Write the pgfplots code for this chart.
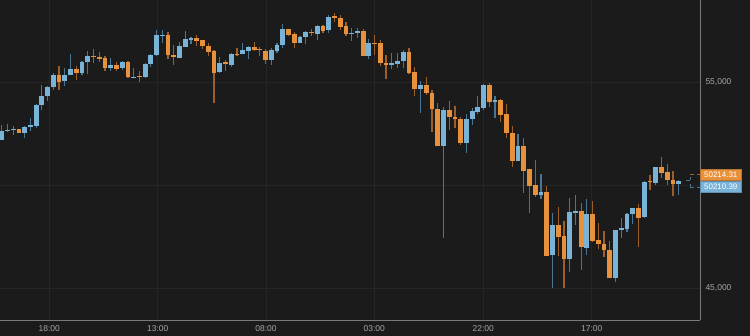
\documentclass[border=0pt]{standalone}
\usepackage{pgfplots}
\pgfplotsset{compat=1.18}
\usepackage{pgfplotstable}
\usepackage{fontspec}
\setmainfont{Liberation Sans}
\definecolor{bg}{HTML}{1B1B1B}
\definecolor{gridc}{HTML}{262626}
\definecolor{axc}{HTML}{7A7A7A}
\definecolor{tickc}{HTML}{A6A6A6}
\definecolor{upc}{HTML}{79B3D8}
\definecolor{upw}{HTML}{4A7593}
\definecolor{dnc}{HTML}{E8913C}
\definecolor{dnw}{HTML}{9C5F2A}
% up (blue) candles: index open high low close
\pgfplotstableread{
x o h l c
1 52168 52897 52168 52622
2 52622 52977 52573 52686
3 52670 52848 52444 52735
5 52524 52848 52282 52816
6 52800 53253 52638 52897
7 52848 53932 52783 53900
8 53867 54854 53641 54337
9 54321 54806 54094 54757
10 54741 55421 54612 55356
12 55032 55680 54822 55356
13 55340 56359 55340 55631
15 55437 56020 55340 55955
16 55955 56505 55388 56262
20 55680 56149 55550 55842
22 55680 56020 55599 55987
24 55210 55696 55194 55259
26 55243 55939 55210 55890
27 55874 56359 55728 56327
28 56311 57541 56246 57265
29 57249 57508 56909 57298
32 56181 56958 56149 56748
33 56715 57476 56715 57087
34 57055 57201 56861 57136
39 55469 56230 55421 55922
41 55809 56392 55744 56359
43 56343 56893 56343 56537
44 56521 56748 56117 56715
48 56052 56667 55842 56537
49 56505 56877 56392 56812
50 56796 57816 56667 57557
53 56909 57233 56893 57168
54 57185 57476 56845 57443
56 57314 57767 57055 57735
58 57524 58253 57363 58172
62 57330 57638 57007 57379
63 57363 57638 57152 57476
65 56278 57071 56117 56893
69 55842 56392 55647 55906
70 55874 56392 55680 56036
71 56003 56553 55696 56473
74 54677 55065 53511 54838
78 51910 53786 47444 53657
82 52023 53463 51570 53204
83 53220 53722 52929 53576
84 53544 54337 53431 53786
85 53754 54903 53625 54871
87 54045 54337 53253 54126
91 51149 52476 51149 51877
95 49499 50518 49337 49677
97 46618 48657 45000 48042
100 46424 49385 45793 48673
101 48657 49515 48075 48738
103 46942 49320 46618 48592
108 45470 47816 45275 47800
109 47816 48414 47444 47929
110 47880 48657 47735 48592
111 48592 48884 48123 48868
113 48431 50194 48414 50162
115 50113 50890 50016 50858
119 50065 50227 49515 50212
}\up
% down (orange) candles: index open high low close
\pgfplotstableread{
x o h l c
4 52702 52735 52508 52524
11 55356 55777 54612 54984
14 55631 55793 55097 55453
17 56262 56602 55906 56198
18 56214 56440 55971 56133
19 56165 56262 55518 55680
21 55842 55971 55550 55647
23 55987 56020 55210 55243
25 55291 55534 55016 55243
30 57265 57427 56100 56295
31 56327 56812 55825 56230
35 57120 57282 56731 56974
36 57023 57055 56602 56731
37 56748 56909 56262 56473
38 56505 56537 53981 55453
40 55955 56084 55518 55890
42 56376 56667 56246 56311
45 56715 56942 56521 56553
46 56602 56683 56278 56537
47 56505 56618 55890 56068
51 57557 57557 57249 57298
52 57314 57427 56634 56909
55 57443 57573 57249 57379
57 57735 57767 57395 57492
59 58188 58333 57913 58123
60 58107 58253 57508 57686
61 57702 57913 57233 57314
64 57476 57557 56262 56278
66 56909 57265 56311 56861
67 56893 57023 55793 55906
68 55922 56295 55130 55842
72 56473 56634 55372 55421
73 55469 55728 54337 54677
75 54838 55227 54369 54466
76 54482 54628 52589 53673
77 53689 53965 51877 51877
79 53657 54094 52670 53285
80 53301 53851 52783 53188
81 53204 53317 51958 52055
86 54871 54952 53803 54045
88 54110 54175 53042 53414
89 53431 53932 52266 52508
90 52508 52848 50890 51149
92 51877 52282 49628 50696
93 50761 50761 48625 49968
94 49984 51198 49418 49499
96 49644 49935 46570 46570
98 48042 48932 46554 47492
99 47525 48236 45000 46424
102 48738 49110 45874 46974
104 48592 49224 47233 47298
105 47330 48156 46877 47136
106 47152 47751 46489 46845
107 46861 47266 45470 45470
112 48868 49078 47007 48398
114 50194 50502 49774 50130
116 50858 51359 50324 50599
117 50615 51036 49984 50227
118 50227 50680 49450 50065
}\down
\begin{document}
\begin{tikzpicture}
\useasboundingbox (0bp,-15.7bp) rectangle (750bp,320.3bp);
\fill[bg] (0bp,-15.7bp) rectangle (750bp,320.3bp);
\begin{axis}[
  at={(0bp,0bp)}, anchor=south west,
  scale only axis, width=700bp, height=320.3bp,
  xmin=0.704, xmax=122.72, ymin=43432, ymax=58981,
  axis x line*=bottom, axis y line*=right,
  axis line style={-, draw=axc, line width=1bp},
  xtick={9.30,28.19,47.07,65.95,84.95,103.84},
  xticklabels={18:00,13:00,08:00,03:00,22:00,17:00},
  ytick={45000,55000},
  yticklabels={{45,000},{55,000}},
  extra y ticks={50000},
  extra y tick labels={},
  extra y tick style={grid=major},
  major tick length=0pt,
  grid=major, major grid style={draw=gridc, line width=0.8bp},
  tick label style={font=\fontsize{8.5}{10}\selectfont, text=tickc},
  xticklabel style={yshift=-1.5bp},
  yticklabel style={xshift=2bp},
  /pgf/number format/assume math mode=true,
  every axis plot/.append style={draw=none, no markers, forget plot},
]
% wicks
\addplot+[error bars/.cd, y dir=plus, y explicit, error mark=none,
  error bar style={draw=upw, line width=1.2bp}]
  table[x=x, y=l, y error expr=\thisrow{h}-\thisrow{l}] {\up};
\addplot+[error bars/.cd, y dir=plus, y explicit, error mark=none,
  error bar style={draw=dnw, line width=1.2bp}]
  table[x=x, y=l, y error expr=\thisrow{h}-\thisrow{l}] {\down};
% bodies
\addplot+[error bars/.cd, y dir=plus, y explicit, error mark=none,
  error bar style={draw=upc, line width=4.8bp}]
  table[x=x, y=o, y error expr=\thisrow{c}-\thisrow{o}] {\up};
\addplot+[error bars/.cd, y dir=plus, y explicit, error mark=none,
  error bar style={draw=dnc, line width=4.8bp}]
  table[x=x, y=c, y error expr=\thisrow{o}-\thisrow{c}] {\down};
\end{axis}
% last price bracket and labels
\draw[dnw, line width=1bp, dash pattern=on 3.5bp off 3.5bp] (690bp,145.6bp) -- (700bp,145.6bp);
\draw[upw, line width=1bp, dash pattern=on 3.5bp off 3.5bp] (690bp,133.0bp) -- (700bp,133.0bp);
\draw[upw, line width=1bp, dash pattern=on 3.5bp off 3.5bp] (690bp,133.0bp) -- (690bp,145.6bp);
\draw[upw, line width=1bp] (686bp,139.5bp) -- (689.5bp,139.5bp);
\node[fill=dnc, draw=dnc!80!black, line width=0.5bp, text=white, anchor=west, inner sep=0pt,
  minimum width=41bp, minimum height=11.4bp, font=\fontsize{8}{9}\selectfont] at (700bp,145.3bp) {50214.31};
\node[fill=upc, draw=upc!80!black, line width=0.5bp, text=white, anchor=west, inner sep=0pt,
  minimum width=41bp, minimum height=11.4bp, font=\fontsize{8}{9}\selectfont] at (700bp,133.3bp) {50210.39};
\end{tikzpicture}
\end{document}
